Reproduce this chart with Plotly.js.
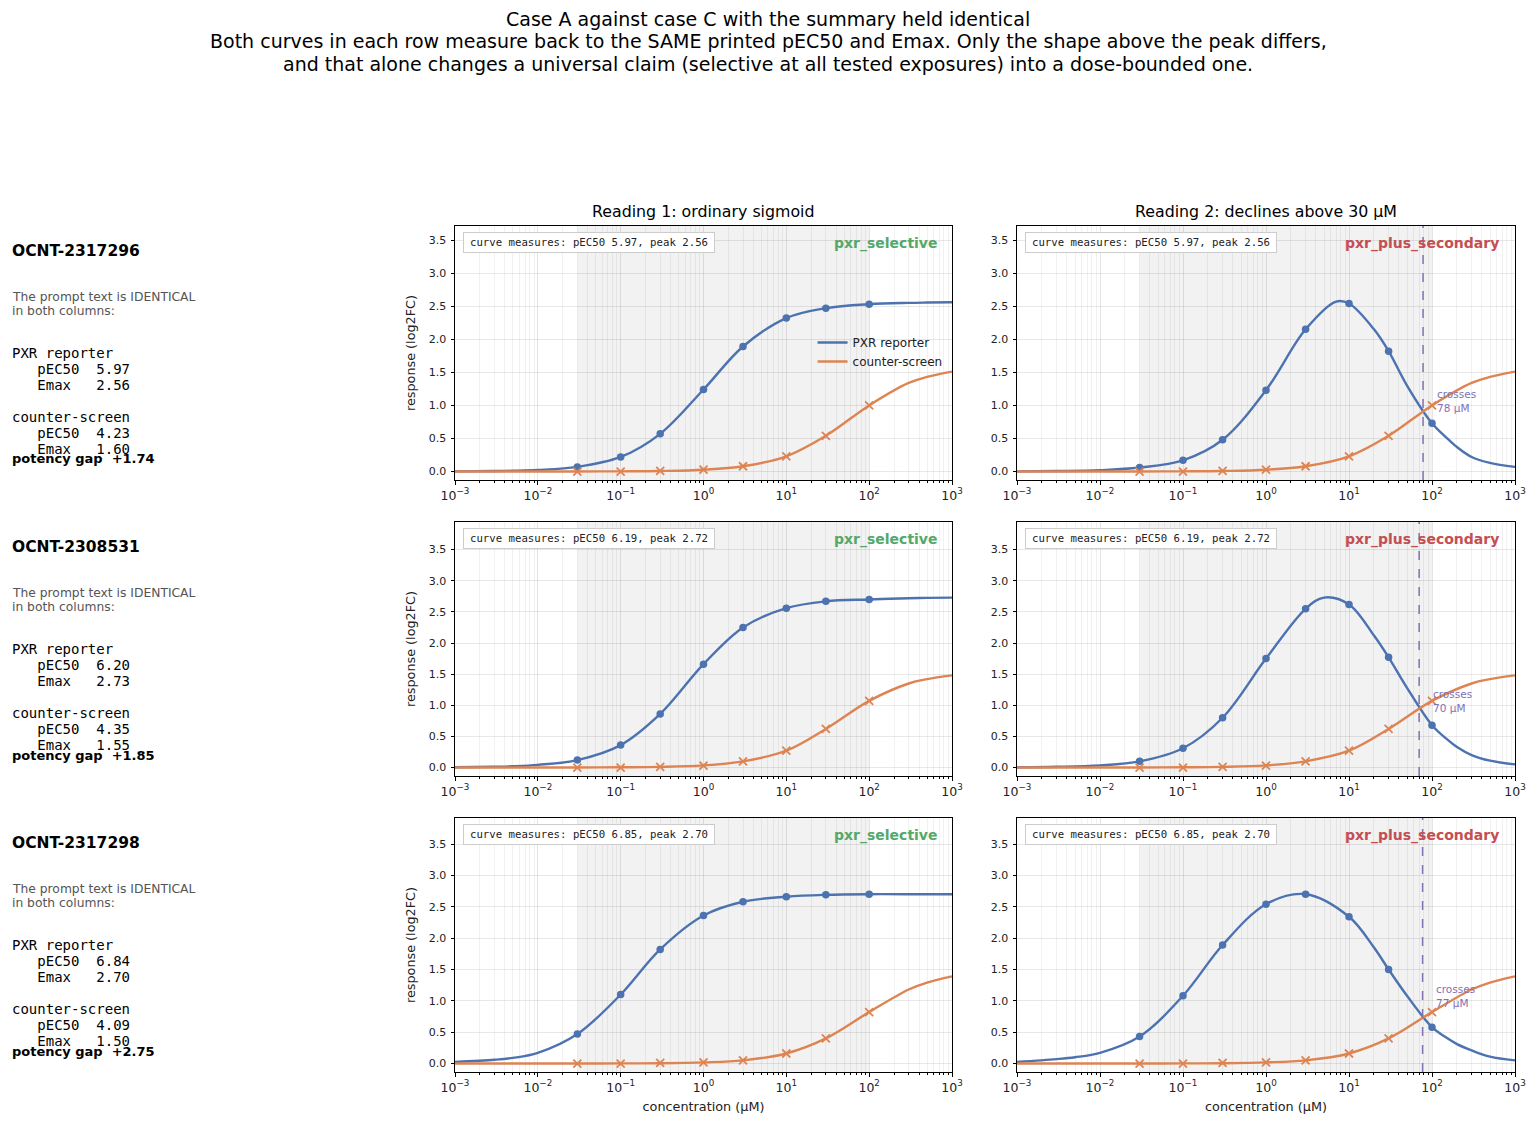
<!DOCTYPE html>
<html>
<head>
<meta charset="utf-8">
<script src="https://cdn.plot.ly/plotly-3.0.1.min.js"></script>
<style>
body { margin: 0; background: #fff; }
#chart { width: 1536px; height: 1125px; }
</style>
</head>
<body>
<div id="chart"></div>
<script>
// one row per compound
var compounds = ['OCNT-2317296', 'OCNT-2308531', 'OCNT-2317298'];
var pxrPEC50 = ['5.97', '6.20', '6.84'];
var pxrEmax = ['2.56', '2.73', '2.70'];
var cntPEC50 = ['4.23', '4.35', '4.09'];
var cntEmax = ['1.60', '1.55', '1.50'];
var potencyGap = ['+1.74', '+1.85', '+2.75'];
var fitPEC50 = ['5.97', '6.19', '6.85'];
var fitPeak = [2.56, 2.72, 2.70];
var crossConc = [78, 70, 77];

var columnTitles = ['Reading 1: ordinary sigmoid', 'Reading 2: declines above 30 \u00b5M'];
var badges = ['pxr_selective', 'pxr_plus_secondary'];
var titleLines = [
  'Case A against case C with the summary held identical',
  'Both curves in each row measure back to the SAME printed pEC50 and Emax. Only the shape above the peak differs,',
  'and that alone changes a universal claim (selective at all tested exposures) into a dose-bounded one.'
];

// tested doses (uM) and the measured points
var doseConc = [0.03, 0.1, 0.3, 1, 3, 10, 30, 100];
var pxrDoseA = [
  [0.07, 0.22, 0.57, 1.24, 1.89, 2.32, 2.47, 2.53],
  [0.12, 0.36, 0.86, 1.66, 2.25, 2.56, 2.67, 2.70],
  [0.47, 1.10, 1.82, 2.36, 2.58, 2.66, 2.69, 2.70]
];
var pxrDoseC = [
  [0.06, 0.17, 0.48, 1.23, 2.15, 2.54, 1.82, 0.73],
  [0.10, 0.31, 0.80, 1.75, 2.55, 2.62, 1.77, 0.68],
  [0.43, 1.08, 1.89, 2.54, 2.70, 2.34, 1.50, 0.58]
];
var cntDose = [
  [0.00, 0.00, 0.01, 0.03, 0.08, 0.23, 0.54, 1.00],
  [0.00, 0.00, 0.01, 0.03, 0.10, 0.27, 0.62, 1.07],
  [0.00, 0.00, 0.01, 0.02, 0.05, 0.16, 0.40, 0.82]
];

// fitted curves
var curveConc = [0.001, 0.003, 0.005, 0.01, 0.03, 0.1, 0.3, 1, 3, 10, 30, 100, 300, 500, 1000];
var pxrCurveA = [
  [0.003, 0.007, 0.012, 0.024, 0.07, 0.22, 0.57, 1.24, 1.89, 2.32, 2.47, 2.53, 2.55, 2.555, 2.56],
  [0.004, 0.013, 0.021, 0.043, 0.12, 0.36, 0.86, 1.66, 2.25, 2.56, 2.67, 2.70, 2.72, 2.725, 2.73],
  [0.025, 0.06, 0.09, 0.17, 0.47, 1.10, 1.82, 2.36, 2.58, 2.66, 2.69, 2.70, 2.70, 2.70, 2.70]
];
var cntCurve = [
  [0, 0, 0, 0, 0.001, 0.003, 0.008, 0.027, 0.08, 0.23, 0.54, 1.00, 1.34, 1.43, 1.51],
  [0, 0, 0, 0, 0.001, 0.004, 0.010, 0.034, 0.10, 0.27, 0.62, 1.07, 1.35, 1.42, 1.48],
  [0, 0, 0, 0, 0.001, 0.002, 0.005, 0.018, 0.05, 0.16, 0.40, 0.82, 1.18, 1.29, 1.39]
];
var curveConcC = [
  [0.001, 0.003, 0.01, 0.03, 0.1, 0.3, 1, 3, 7, 10, 20, 30, 50, 100, 150, 200, 300, 500, 1000],
  [0.001, 0.003, 0.01, 0.03, 0.1, 0.3, 1, 3, 5, 10, 20, 30, 50, 100, 150, 200, 300, 500, 1000],
  [0.001, 0.003, 0.005, 0.01, 0.03, 0.1, 0.3, 1, 3, 10, 20, 30, 50, 100, 150, 200, 300, 500, 1000]
];
var pxrCurveC = [
  [0.002, 0.007, 0.02, 0.06, 0.17, 0.48, 1.23, 2.15, 2.57, 2.54, 2.15, 1.82, 1.30, 0.73, 0.51, 0.37, 0.22, 0.13, 0.07],
  [0.004, 0.012, 0.035, 0.10, 0.31, 0.80, 1.75, 2.55, 2.73, 2.62, 2.12, 1.77, 1.28, 0.68, 0.46, 0.33, 0.20, 0.11, 0.05],
  [0.025, 0.07, 0.10, 0.17, 0.43, 1.08, 1.89, 2.54, 2.70, 2.34, 1.85, 1.50, 1.08, 0.58, 0.41, 0.31, 0.21, 0.11, 0.05]
];

var xTickVals = [0.001, 0.01, 0.1, 1, 10, 100, 1000];
var xTickText = ['10<sup>\u22123</sup>', '10<sup>\u22122</sup>', '10<sup>\u22121</sup>', '10<sup>0</sup>',
                 '10<sup>1</sup>', '10<sup>2</sup>', '10<sup>3</sup>'];

var W = 1536, H = 1125;
var BLUE = '#4c72b0', ORANGE = '#dd8452', PURPLE = '#8172b3';
var badgeColors = ['#55a868', '#c44e52'];
var FONT = 'DejaVu Sans, Verdana, sans-serif';
var MONO = 'DejaVu Sans Mono, monospace';

var colPx = [[455, 952], [1017, 1515]];
var rowPx = [[226, 480], [522, 776], [818, 1072]];

var minorVals = [];
for (var e = -3; e < 3; e++)
  for (var d = 2; d <= 9; d++) minorVals.push(d * Math.pow(10, e));

function nb(s) { return s.replace(/ /g, '\u00a0'); }
function py(px) { return 1 - px / H; }

var traces = [];
var layout = {
  width: W, height: H,
  margin: {l: 0, r: 0, t: 0, b: 0},
  paper_bgcolor: '#fff', plot_bgcolor: '#fff',
  font: {family: FONT, size: 11, color: '#222'},
  showlegend: true,
  legend: {x: 0.529, y: py(328), xanchor: 'left', yanchor: 'top',
           bgcolor: 'rgba(0,0,0,0)', borderwidth: 0, font: {size: 12},
           tracegroupgap: 0},
  shapes: [], annotations: []
};

function paperText(xpx, ypx, text, font) {
  layout.annotations.push({xref: 'paper', yref: 'paper', x: xpx / W, y: py(ypx), text: text,
    showarrow: false, xanchor: 'left', yanchor: 'middle', font: font});
}

for (var r = 0; r < 3; r++) {
  var rowTop = rowPx[r][0];
  var yRange = [-0.05 * fitPeak[r], 1.45 * fitPeak[r]];

  // left-hand summary text
  paperText(10, rowTop + 25, '<b>' + compounds[r] + '</b>', {family: FONT, size: 15.5, color: '#000'});
  paperText(10, rowTop + 71, 'The prompt text is IDENTICAL', {family: FONT, size: 12.3, color: '#555'});
  paperText(10, rowTop + 85, 'in both columns:', {family: FONT, size: 12.3, color: '#555'});
  var lines = ['PXR reporter', '   pEC50  ' + pxrPEC50[r], '   Emax   ' + pxrEmax[r], '',
               'counter-screen', '   pEC50  ' + cntPEC50[r], '   Emax   ' + cntEmax[r]];
  for (var i = 0; i < lines.length; i++) {
    if (lines[i]) paperText(10, rowTop + 127 + 16 * i, nb(lines[i]), {family: MONO, size: 14, color: '#000'});
  }
  paperText(10, rowTop + 233, '<b>' + nb('potency gap  ' + potencyGap[r]) + '</b>', {family: FONT, size: 13, color: '#000'});

  for (var c = 0; c < 2; c++) {
    var p = r * 2 + c;
    var sfx = p === 0 ? '' : String(p + 1);
    var xa = 'x' + sfx, ya = 'y' + sfx;
    var first = p === 0;

    layout['xaxis' + sfx] = {
      domain: [colPx[c][0] / W, colPx[c][1] / W], anchor: ya,
      type: 'log', range: [-3, 3],
      tickmode: 'array', tickvals: xTickVals, ticktext: xTickText,
      ticks: 'outside', ticklen: 3.5, tickwidth: 1, tickcolor: '#000',
      showline: true, linecolor: '#000', linewidth: 1, mirror: true,
      showgrid: true, gridcolor: 'rgba(0,0,0,0.10)', gridwidth: 1, zeroline: false,
      minor: {tickmode: 'array', tickvals: minorVals, ticks: 'outside', ticklen: 2,
              tickcolor: '#000', showgrid: true, gridcolor: 'rgba(0,0,0,0.055)'},
      tickfont: {size: 12.5, color: '#222'}, automargin: false,
      title: r === 2 ? {text: 'concentration (\u00b5M)', font: {size: 12.8}, standoff: 8} : {text: ''}
    };
    layout['yaxis' + sfx] = {
      domain: [py(rowPx[r][1]), py(rowPx[r][0])], anchor: xa,
      range: yRange, tickmode: 'linear', tick0: 0, dtick: 0.5, tickformat: '.1f',
      ticks: 'outside', ticklen: 3.5, tickwidth: 1, tickcolor: '#000', ticklabelstandoff: 2,
      showline: true, linecolor: '#000', linewidth: 1, mirror: true,
      showgrid: true, gridcolor: 'rgba(0,0,0,0.09)', zeroline: false,
      tickfont: {size: 11, color: '#222'}, automargin: false,
      title: c === 0 ? {text: 'response (log2FC)', font: {size: 12.8}, standoff: 10} : {text: ''}
    };

    // tested exposure window
    layout.shapes.push({type: 'rect', xref: xa, yref: ya + ' domain',
      x0: doseConc[0], x1: doseConc[doseConc.length - 1], y0: 0, y1: 1,
      fillcolor: 'rgba(0,0,0,0.05)', line: {width: 0}, layer: 'below'});

    traces.push({x: c === 0 ? curveConc : curveConcC[r], y: c === 0 ? pxrCurveA[r] : pxrCurveC[r],
      xaxis: xa, yaxis: ya, mode: 'lines', name: 'PXR reporter', legendgroup: 'pxr',
      showlegend: first, hoverinfo: 'skip',
      line: {color: BLUE, width: 2.4, shape: 'spline', smoothing: 1}});
    traces.push({x: doseConc, y: c === 0 ? pxrDoseA[r] : pxrDoseC[r],
      xaxis: xa, yaxis: ya, mode: 'markers', showlegend: false,
      marker: {color: BLUE, size: 7.5, symbol: 'circle'}});
    traces.push({x: curveConc, y: cntCurve[r],
      xaxis: xa, yaxis: ya, mode: 'lines', name: 'counter-screen', legendgroup: 'cnt',
      showlegend: first, hoverinfo: 'skip',
      line: {color: ORANGE, width: 2.4, shape: 'spline', smoothing: 1}});
    traces.push({x: doseConc, y: cntDose[r],
      xaxis: xa, yaxis: ya, mode: 'markers', showlegend: false,
      marker: {color: ORANGE, size: 8, symbol: 'x-thin', line: {color: ORANGE, width: 1.8}}});

    layout.annotations.push({xref: xa + ' domain', yref: ya + ' domain', x: 0.016, y: 0.937,
      xanchor: 'left', yanchor: 'middle', showarrow: false, width: 244,
      text: 'curve measures: pEC50 ' + fitPEC50[r] + ', peak ' + fitPeak[r].toFixed(2),
      font: {family: MONO, size: 10.7, color: '#222'},
      bgcolor: '#fff', bordercolor: '#cccccc', borderwidth: 1, borderpad: 3});
    layout.annotations.push({xref: xa + ' domain', yref: ya + ' domain', x: c === 0 ? 0.975 : 0.972, y: 0.933,
      xanchor: 'right', yanchor: 'middle', showarrow: false,
      text: '<b>' + badges[c] + '</b>', font: {family: FONT, size: 14, color: badgeColors[c]}});

    if (c === 1) {
      layout.shapes.push({type: 'line', xref: xa, yref: ya + ' domain',
        x0: crossConc[r], x1: crossConc[r], y0: 0, y1: 1,
        line: {color: PURPLE, width: 1.5, dash: 'dash'}});
      layout.annotations.push({xref: xa, yref: ya, x: Math.log10(crossConc[r] * 1.38), y: 1.07,
        xanchor: 'left', yanchor: 'middle', showarrow: false, align: 'left',
        text: 'crosses<br>' + crossConc[r] + ' \u00b5M', font: {size: 10.5, color: PURPLE}});
    }
  }
}

for (var c2 = 0; c2 < 2; c2++) {
  layout.annotations.push({xref: 'paper', yref: 'paper',
    x: (colPx[c2][0] + colPx[c2][1]) / 2 / W, y: py(211), xanchor: 'center', yanchor: 'middle',
    showarrow: false, text: columnTitles[c2], font: {size: 15.8, color: '#000'}});
}
for (var t = 0; t < titleLines.length; t++) {
  layout.annotations.push({xref: 'paper', yref: 'paper', x: 0.5, y: py(19 + 22.5 * t),
    xanchor: 'center', yanchor: 'middle', showarrow: false,
    text: titleLines[t], font: {size: 19, color: '#000'}});
}

Plotly.newPlot('chart', traces, layout, {displayModeBar: false, staticPlot: true});
</script>
</body>
</html>
